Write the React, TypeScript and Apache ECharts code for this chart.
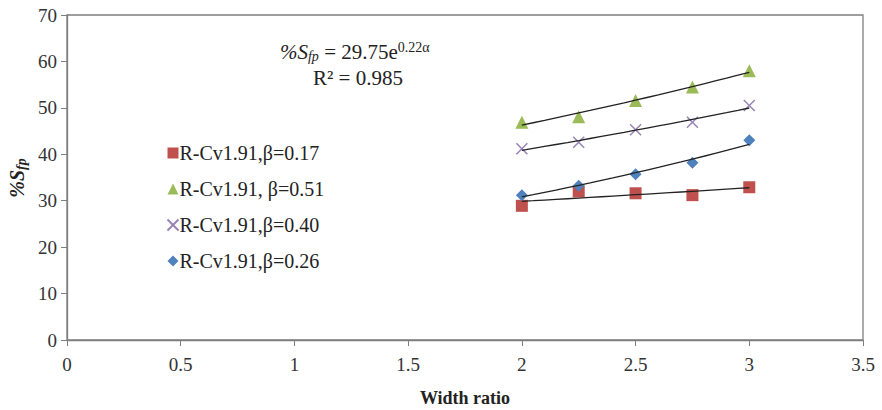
import React, { useEffect, useRef } from "react";
import * as echarts from "echarts";

// Width ratios sampled for every beta case
const widthRatios = [2, 2.25, 2.5, 2.75, 3];

// %Sfp measured at each width ratio
const sfpBeta017 = [28.9, 32.0, 31.6, 31.2, 32.9];
const sfpBeta051 = [46.9, 48.1, 51.6, 54.5, 58.0];
const sfpBeta040 = [41.2, 42.6, 45.3, 46.9, 50.5];
const sfpBeta026 = [31.2, 33.2, 35.7, 38.2, 43.0];

const seriesNames = [
  "R-Cv1.91,β=0.17",
  "R-Cv1.91, β=0.51",
  "R-Cv1.91,β=0.40",
  "R-Cv1.91,β=0.26",
];

const xTicks = [0, 0.5, 1, 1.5, 2, 2.5, 3, 3.5];
const yTicks = [0, 10, 20, 30, 40, 50, 60, 70];

const SERIF = "'Liberation Serif', 'Times New Roman', serif";

// Exponential least-squares trend (fit of ln y against x), sampled across the data range
function expTrend(xs: number[], ys: number[]): number[][] {
  const n = xs.length;
  const ly = ys.map((v) => Math.log(v));
  const mx = xs.reduce((s, v) => s + v, 0) / n;
  const my = ly.reduce((s, v) => s + v, 0) / n;
  let sxy = 0;
  let sxx = 0;
  for (let i = 0; i < n; i++) {
    sxy += (xs[i] - mx) * (ly[i] - my);
    sxx += (xs[i] - mx) * (xs[i] - mx);
  }
  const b = sxy / sxx;
  const a = Math.exp(my - b * mx);
  const x0 = Math.min(...xs);
  const x1 = Math.max(...xs);
  const pts: number[][] = [];
  const steps = 20;
  for (let k = 0; k <= steps; k++) {
    const x = x0 + ((x1 - x0) * k) / steps;
    pts.push([x, a * Math.exp(b * x)]);
  }
  return pts;
}

const pairs = (ys: number[]) => widthRatios.map((x, i) => [x, ys[i]]);

export default function App() {
  const ref = useRef<HTMLDivElement>(null);

  useEffect(() => {
    if (!ref.current) return;
    const chart = echarts.init(ref.current, undefined, { renderer: "svg" });

    const cross = "path://M0,0L10,10M10,0L0,10";
    const groups = [
      { name: seriesNames[0], ys: sfpBeta017, symbol: "rect", size: 12, color: "#c0504d" },
      { name: seriesNames[1], ys: sfpBeta051, symbol: "triangle", size: 13, color: "#9bbb59" },
      { name: seriesNames[2], ys: sfpBeta040, symbol: cross, size: 11, color: "#8064a2" },
      { name: seriesNames[3], ys: sfpBeta026, symbol: "diamond", size: 12, color: "#4f81bd" },
    ];

    const scatterSeries = groups.map((g) => ({
      name: g.name,
      type: "scatter",
      symbol: g.symbol,
      symbolSize: g.size,
      z: 3,
      itemStyle:
        g.symbol === cross
          ? { color: "none", borderColor: g.color, borderWidth: 1.5 }
          : { color: g.color, opacity: 1 },
      data: pairs(g.ys),
    }));

    const trendSeries = groups.map((g) => ({
      name: g.name + " trend",
      type: "line",
      showSymbol: false,
      symbol: "none",
      smooth: false,
      z: 4,
      lineStyle: { color: "#222", width: 1.3 },
      data: expTrend(widthRatios, g.ys),
    }));

    const axisLine = { show: true, lineStyle: { color: "#7f7f7f", width: 1.3 } };
    const axisLabel = { color: "#333", fontFamily: SERIF, fontSize: 19 };

    chart.setOption({
      animation: false,
      backgroundColor: "#fff",
      textStyle: { fontFamily: SERIF },
      grid: {
        left: 67,
        right: 19,
        top: 15,
        bottom: 70,
        containLabel: false,
        outerBoundsMode: "none",
        show: true,
        borderColor: "#7f7f7f",
        borderWidth: 1.3,
      },
      xAxis: {
        type: "value",
        min: xTicks[0],
        max: xTicks[xTicks.length - 1],
        interval: 0.5,
        splitLine: { show: false },
        axisLine,
        axisTick: { show: true, length: 6, lineStyle: { color: "#7f7f7f" } },
        axisLabel: { ...axisLabel, margin: 15, formatter: (v: number) => String(v) },
        name: "Width ratio",
        nameLocation: "middle",
        nameGap: 49,
        nameTextStyle: { fontFamily: SERIF, fontSize: 18, fontWeight: "bold", color: "#222" },
      },
      yAxis: {
        type: "value",
        min: yTicks[0],
        max: yTicks[yTicks.length - 1],
        interval: 10,
        splitLine: { show: false },
        axisLine,
        axisTick: { show: true, length: 6, lineStyle: { color: "#7f7f7f" } },
        axisLabel: { ...axisLabel, margin: 10 },
      },
      legend: {
        data: seriesNames,
        orient: "vertical",
        left: 160,
        top: 138,
        itemGap: 16,
        itemWidth: 11,
        itemHeight: 11,
        textStyle: { fontFamily: SERIF, fontSize: 20, color: "#222", padding: [0, 0, 0, -4] },
      },
      graphic: [
        {
          type: "text",
          left: 280,
          top: 40,
          style: {
            text: "{i|%S}{sub|fp}{n| = 29.75e}{sup|0.22α}",
            rich: {
              i: { fontFamily: SERIF, fontSize: 21, fontStyle: "italic", fill: "#222" },
              sub: { fontFamily: SERIF, fontSize: 14, fontStyle: "italic", fill: "#222", verticalAlign: "bottom", padding: [9, 0, 0, 0] },
              n: { fontFamily: SERIF, fontSize: 21, fill: "#222" },
              sup: { fontFamily: SERIF, fontSize: 14, fill: "#222", verticalAlign: "top", padding: [0, 0, 9, 0] },
            },
          },
        },
        {
          type: "text",
          left: 313,
          top: 67,
          style: { text: "R² = 0.985", fontFamily: SERIF, fontSize: 21, fill: "#222" },
        },
        {
          type: "text",
          x: 17,
          y: 178,
          rotation: Math.PI / 2,
          style: {
            text: "{i|%S}{sub|fp}",
            align: "center",
            verticalAlign: "middle",
            rich: {
              i: { fontFamily: SERIF, fontSize: 20, fontStyle: "italic", fontWeight: "bold", fill: "#222" },
              sub: { fontFamily: SERIF, fontSize: 14, fontStyle: "italic", fontWeight: "bold", fill: "#222", padding: [9, 0, 0, 0] },
            },
          },
        },
      ],
      series: [...scatterSeries, ...trendSeries],
    });

    return () => chart.dispose();
  }, []);

  return (
    <div
      ref={ref}
      style={{ position: "absolute", left: 0, top: 0, width: 882, height: 410 }}
    />
  );
}
